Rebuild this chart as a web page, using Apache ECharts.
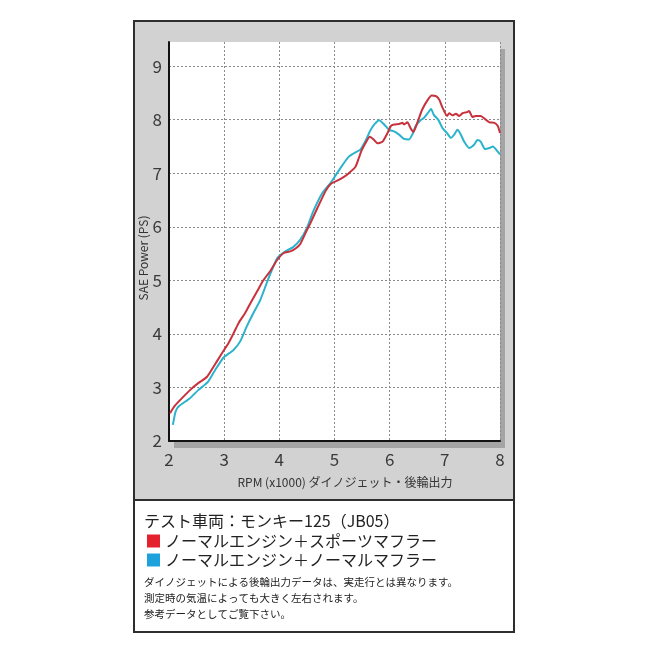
<!DOCTYPE html>
<html>
<head>
<meta charset="utf-8">
<script src="https://cdn.jsdelivr.net/npm/echarts@6/dist/echarts.min.js"></script>
<style>
html,body{margin:0;padding:0;background:#fff;}
#chart{width:650px;height:650px;}
</style>
</head>
<body>
<div id="chart"></div>
<script>
// Sports muffler (red)
var rpmSport = [2.02,2.10,2.17,2.38,2.53,2.69,2.81,2.96,3.08,3.17,3.26,3.38,3.49,3.60,3.71,3.84,3.96,4.08,4.20,4.30,4.38,4.50,4.56,4.69,4.84,4.93,5.05,5.17,5.26,5.38,5.44,5.49,5.56,5.64,5.71,5.78,5.87,5.96,6.02,6.08,6.17,6.23,6.26,6.32,6.38,6.43,6.50,6.59,6.69,6.76,6.84,6.90,6.96,7.04,7.08,7.14,7.20,7.26,7.32,7.40,7.44,7.50,7.56,7.65,7.73,7.81,7.90,7.96,8.00];
var psSport  = [2.52,2.65,2.73,2.95,3.08,3.20,3.39,3.64,3.83,4.01,4.20,4.39,4.60,4.80,5.00,5.18,5.38,5.51,5.54,5.60,5.68,5.94,6.06,6.35,6.67,6.80,6.86,6.93,7.00,7.12,7.28,7.42,7.56,7.68,7.63,7.56,7.59,7.75,7.88,7.91,7.92,7.94,7.91,7.95,7.84,7.77,7.94,8.19,8.37,8.45,8.44,8.37,8.22,8.07,8.12,8.08,8.11,8.07,8.12,8.14,8.16,8.05,8.07,8.07,8.01,7.95,7.94,7.88,7.75];
// Normal muffler (cyan)
var rpmNormal = [2.07,2.12,2.17,2.38,2.53,2.71,2.84,2.99,3.17,3.29,3.41,3.53,3.65,3.79,3.96,4.11,4.25,4.38,4.50,4.62,4.78,4.93,5.11,5.26,5.40,5.47,5.56,5.65,5.73,5.81,5.90,5.99,6.08,6.17,6.26,6.35,6.41,6.47,6.56,6.62,6.69,6.75,6.80,6.88,6.96,7.04,7.11,7.17,7.23,7.29,7.35,7.44,7.53,7.59,7.65,7.73,7.81,7.87,7.93,8.00];
var psNormal  = [2.30,2.55,2.64,2.80,2.95,3.11,3.33,3.56,3.70,3.86,4.14,4.39,4.62,5.00,5.41,5.54,5.62,5.76,5.98,6.30,6.63,6.82,7.10,7.31,7.40,7.44,7.60,7.80,7.92,7.99,7.91,7.81,7.78,7.72,7.64,7.63,7.72,7.88,7.99,8.03,8.12,8.20,8.09,8.00,7.84,7.75,7.66,7.72,7.81,7.72,7.59,7.47,7.53,7.62,7.59,7.45,7.47,7.50,7.44,7.35];

var xTicks = [2,3,4,5,6,7,8];
var yTicks = [2,3,4,5,6,7,8,9];

var nameSport = 'ノーマルエンジン＋スポーツマフラー';
var nameNormal = 'ノーマルエンジン＋ノーマルマフラー';
var headText = 'テスト車両：モンキー125（JB05）';
var notes = [
  'ダイノジェットによる後輪出力データは、実走行とは異なります。',
  '測定時の気温によっても大きく左右されます。',
  '参考データとしてご覧下さい。'
];

function pairs(xs, ys){ return xs.map(function(x,i){ return [x, ys[i]]; }); }

var FONT = '"Noto Sans CJK JP", "Noto Sans", sans-serif';
var chart = echarts.init(document.getElementById('chart'), null, {renderer:'canvas'});

var graphics = [
  {type:'rect', z:-10, shape:{x:134,y:21,width:380,height:479}, style:{fill:'#d2d2d2'}},
  {type:'rect', z:-10, shape:{x:134,y:500,width:380,height:132}, style:{fill:'#ffffff'}},
  {type:'rect', z:50, shape:{x:134,y:21,width:380,height:611}, style:{fill:null, stroke:'#2e2e2e', lineWidth:2}},
  {type:'line', z:50, shape:{x1:134,y1:500,x2:514,y2:500}, style:{stroke:'#2e2e2e', lineWidth:2}},
  {type:'text', z:50, x:144, y:521, style:{text:headText, font:'16px ' + FONT, fill:'#222', textVerticalAlign:'middle'}}
];
var noteY = [582, 598, 614];
notes.forEach(function(t,i){
  graphics.push({type:'text', z:50, x:144, y:noteY[i], style:{text:t, font:'10.5px ' + FONT, fill:'#222', textVerticalAlign:'middle'}});
});

var option = {
  animation:false,
  backgroundColor:'#ffffff',
  textStyle:{fontFamily:FONT},
  graphic: graphics,
  grid:{
    left:169, top:42, width:331, height:399,
    show:true, backgroundColor:'#ffffff', borderWidth:0,
    shadowColor:'#a4a4a4', shadowBlur:0, shadowOffsetX:5, shadowOffsetY:7
  },
  legend:{
    orient:'vertical', left:142, top:528, itemGap:3,
    itemWidth:13, itemHeight:13, icon:'rect',
    textStyle:{fontSize:16, color:'#222', fontFamily:FONT},
    data:[
      {name:nameSport, itemStyle:{color:'#e3222b'}},
      {name:nameNormal, itemStyle:{color:'#1ea2dc'}}
    ]
  },
  xAxis:{
    type:'value', min:xTicks[0], max:xTicks[xTicks.length-1], interval:1,
    name:'RPM (x1000) ダイノジェット・後輪出力',
    nameLocation:'middle', nameGap:35, nameMoveOverlap:false,
    nameTextStyle:{fontSize:12, color:'#333', padding:[0,0,0,21], fontFamily:FONT},
    axisLine:{onZero:false, lineStyle:{color:'#111', width:2}},
    axisTick:{show:false},
    axisLabel:{fontSize:17, color:'#3a3a3a', margin:10, fontFamily:FONT},
    splitLine:{show:true, lineStyle:{color:'#8a8a8a', type:[2,2], width:1}}
  },
  yAxis:{
    type:'value', min:yTicks[0], max:9.45, interval:1,
    name:'SAE Power (PS)',
    nameLocation:'middle', nameGap:20, nameMoveOverlap:false,
    nameTextStyle:{fontSize:12, color:'#333', padding:[0,33,0,0], fontFamily:FONT},
    axisLine:{show:true, onZero:false, lineStyle:{color:'#111', width:2}},
    axisTick:{show:false},
    axisLabel:{fontSize:17, color:'#3a3a3a', margin:7, fontFamily:FONT,
      formatter:function(v){ return yTicks.indexOf(v) >= 0 ? String(v) : ''; }},
    splitLine:{show:true, showMaxLine:false, lineStyle:{color:'#8a8a8a', type:[2,2], width:1}}
  },
  series:[
    {name:nameNormal, type:'line', data:pairs(rpmNormal, psNormal), showSymbol:false, symbol:'none',
     smooth:0.2, lineStyle:{color:'#2cb3cc', width:2}, itemStyle:{color:'#1ea2dc'}, z:3},
    {name:nameSport, type:'line', data:pairs(rpmSport, psSport), showSymbol:false, symbol:'none',
     smooth:0.2, lineStyle:{color:'#c8323c', width:2}, itemStyle:{color:'#e3222b'}, z:4}
  ]
};
chart.setOption(option);
</script>
</body>
</html>
